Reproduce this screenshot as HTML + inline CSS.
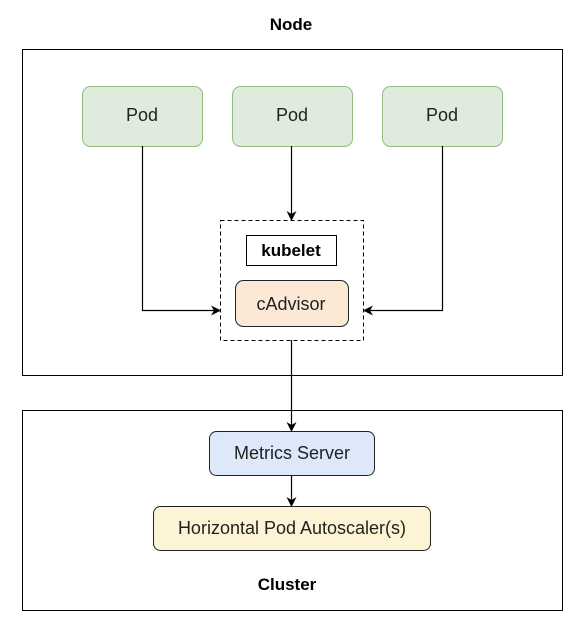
<!DOCTYPE html>
<html><head><style>body{margin:0;background:#fff}</style></head><body>
<svg width="585" height="625" xmlns="http://www.w3.org/2000/svg" font-family="Liberation Sans, Arial, sans-serif">
<defs><marker id="a" markerWidth="10" markerHeight="10" refX="9" refY="5" orient="auto" markerUnits="userSpaceOnUse"><path d="M0,0 L10,5 L0,10 L3,5 Z" fill="#000"/></marker></defs>
<rect width="585" height="625" fill="#fff"/>
<text x="291" y="30" text-anchor="middle" font-weight="bold" font-size="17">Node</text>
<rect x="22.5" y="49.5" width="540" height="326" fill="none" stroke="#000"/>
<rect x="22.5" y="410.5" width="540" height="200" fill="none" stroke="#000"/>
<text x="287" y="590" text-anchor="middle" font-weight="bold" font-size="17">Cluster</text>
<g fill="#dfebdc" stroke="#92bd7e">
<rect x="82.5" y="86.5" width="120" height="60" rx="8"/>
<rect x="232.5" y="86.5" width="120" height="60" rx="8"/>
<rect x="382.5" y="86.5" width="120" height="60" rx="8"/>
</g>
<g font-size="18" text-anchor="middle" fill="#222">
<text x="142" y="121">Pod</text><text x="292" y="121">Pod</text><text x="442" y="121">Pod</text>
</g>
<rect x="220.5" y="220.5" width="143" height="120" fill="none" stroke="#000" stroke-dasharray="4,3"/>
<rect x="246.5" y="235.5" width="90" height="30" fill="#fff" stroke="#000"/>
<text x="291" y="256" text-anchor="middle" font-weight="bold" font-size="17">kubelet</text>
<rect x="235.5" y="280.5" width="113" height="46" rx="8" fill="#fbe8d5" stroke="#222"/>
<text x="291" y="310" text-anchor="middle" font-size="18" fill="#222">cAdvisor</text>
<rect x="209.5" y="431.5" width="165" height="44" rx="7" fill="#dde8f8" stroke="#222"/>
<text x="292" y="459" text-anchor="middle" font-size="18" fill="#222">Metrics Server</text>
<rect x="153.5" y="506.5" width="277" height="44" rx="7" fill="#fdf3d5" stroke="#222"/>
<text x="292" y="534" text-anchor="middle" font-size="18" fill="#222">Horizontal Pod Autoscaler(s)</text>
<g stroke="#000" fill="none" stroke-width="1.2" marker-end="url(#a)">
<path d="M142.5,146 V310.5 H220"/>
<path d="M442.5,146 V310.5 H364"/>
<path d="M291.5,146 V220"/>
<path d="M291.5,340 V431"/>
<path d="M291.5,475 V506"/>
</g>
</svg>
</body></html>
